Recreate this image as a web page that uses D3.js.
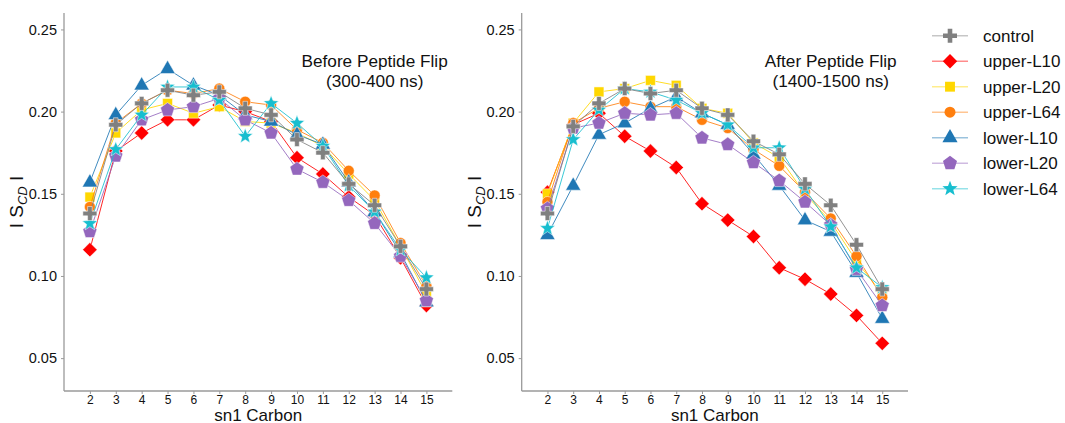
<!DOCTYPE html>
<html>
<head>
<meta charset="utf-8">
<script src="https://cdn.jsdelivr.net/npm/d3@7"></script>
<style>
  html, body { margin: 0; padding: 0; background: #fff; }
  svg { display: block; font-family: "Liberation Sans", Arial, Helvetica, sans-serif; }
</style>
</head>
<body>
<svg id="chart" width="1065" height="423"></svg>
<script>
// sn1 chain carbons
const carbons = [2, 3, 4, 5, 6, 7, 8, 9, 10, 11, 12, 13, 14, 15];
const yTicks = [0.05, 0.10, 0.15, 0.20, 0.25];

// |S_CD| order parameters, 300-400 ns window
const beforeControl  = [0.138, 0.192, 0.205, 0.213, 0.210, 0.212, 0.202, 0.198, 0.183, 0.175, 0.156, 0.143, 0.118, 0.092];
const beforeUpperL10 = [0.116, 0.176, 0.187, 0.195, 0.195, 0.204, 0.200, 0.194, 0.172, 0.162, 0.148, 0.137, 0.111, 0.082];
const beforeUpperL20 = [0.148, 0.187, 0.201, 0.205, 0.199, 0.203, 0.194, 0.193, 0.187, 0.179, 0.162, 0.146, 0.118, 0.089];
const beforeUpperL64 = [0.142, 0.193, 0.205, 0.213, 0.211, 0.214, 0.206, 0.204, 0.189, 0.181, 0.164, 0.149, 0.120, 0.094];
const beforeLowerL10 = [0.157, 0.198, 0.216, 0.226, 0.216, 0.210, 0.198, 0.194, 0.186, 0.180, 0.157, 0.139, 0.114, 0.084];
const beforeLowerL20 = [0.127, 0.173, 0.195, 0.201, 0.203, 0.208, 0.195, 0.187, 0.165, 0.157, 0.146, 0.132, 0.112, 0.085];
const beforeLowerL64 = [0.132, 0.177, 0.198, 0.215, 0.215, 0.207, 0.185, 0.205, 0.193, 0.179, 0.155, 0.139, 0.116, 0.099];

// |S_CD| order parameters, 1400-1500 ns window
const afterControl  = [0.138, 0.191, 0.205, 0.214, 0.211, 0.213, 0.202, 0.198, 0.182, 0.174, 0.156, 0.143, 0.119, 0.092];
const afterUpperL10 = [0.151, 0.192, 0.199, 0.185, 0.176, 0.166, 0.144, 0.134, 0.124, 0.105, 0.098, 0.089, 0.076, 0.059];
const afterUpperL20 = [0.150, 0.193, 0.212, 0.214, 0.219, 0.216, 0.202, 0.199, 0.181, 0.172, 0.150, 0.133, 0.109, 0.089];
const afterUpperL64 = [0.145, 0.193, 0.202, 0.206, 0.203, 0.203, 0.195, 0.190, 0.177, 0.167, 0.151, 0.135, 0.112, 0.087];
const afterLowerL10 = [0.125, 0.155, 0.186, 0.193, 0.202, 0.209, 0.199, 0.192, 0.174, 0.155, 0.134, 0.127, 0.102, 0.074];
const afterLowerL20 = [0.141, 0.190, 0.193, 0.199, 0.198, 0.199, 0.184, 0.180, 0.169, 0.158, 0.145, 0.131, 0.104, 0.082];
const afterLowerL64 = [0.129, 0.183, 0.201, 0.214, 0.212, 0.207, 0.199, 0.192, 0.178, 0.178, 0.153, 0.130, 0.105, 0.093];

const seriesNames  = ["control", "upper-L10", "upper-L20", "upper-L64", "lower-L10", "lower-L20", "lower-L64"];
const seriesColors = ["#808080", "#ff0000", "#ffd700", "#ff7f0e", "#1f77b4", "#9467bd", "#17becf"];
const seriesShapes = ["plus", "diamond", "square", "circle", "triangle", "pentagon", "star"];

const panelTitles = [["Before Peptide Flip", "(300-400 ns)"], ["After Peptide Flip", "(1400-1500 ns)"]];
const panelData = [
  [beforeControl, beforeUpperL10, beforeUpperL20, beforeUpperL64, beforeLowerL10, beforeLowerL20, beforeLowerL64],
  [afterControl, afterUpperL10, afterUpperL20, afterUpperL64, afterLowerL10, afterLowerL20, afterLowerL64]
];

const svg = d3.select("#chart");

// marker path generators
function polygon(n, r, rot) {
  const pts = [];
  for (let i = 0; i < n; i++) {
    const a = rot + i * 2 * Math.PI / n;
    pts.push([r * Math.cos(a), r * Math.sin(a)]);
  }
  return "M" + pts.map(p => p[0].toFixed(2) + "," + p[1].toFixed(2)).join("L") + "Z";
}
function starPath(ro, ri) {
  const pts = [];
  for (let i = 0; i < 10; i++) {
    const a = -Math.PI / 2 + i * Math.PI / 5;
    const r = i % 2 === 0 ? ro : ri;
    pts.push([r * Math.cos(a), r * Math.sin(a)]);
  }
  return "M" + pts.map(p => p[0].toFixed(2) + "," + p[1].toFixed(2)).join("L") + "Z";
}
function plusPath(h, w) {
  const a = w / 2;
  return `M${-a},${-h}L${a},${-h}L${a},${-a}L${h},${-a}L${h},${a}L${a},${a}L${a},${h}L${-a},${h}L${-a},${a}L${-h},${a}L${-h},${-a}L${-a},${-a}Z`;
}
const shapePaths = {
  plus: plusPath(7, 4.6),
  diamond: polygon(4, 7.2, -Math.PI / 2),
  square: polygon(4, 7.0, Math.PI / 4),
  circle: d3.symbol(d3.symbolCircle, 95)(),
  triangle: "M0,-8.6L7.6,4.6L-7.6,4.6Z",
  pentagon: polygon(5, 7.4, -Math.PI / 2),
  star: starPath(8.0, 3.4)
};

const panels = [
  { left: 64, right: 452.3, yLabelX: 23 },
  { left: 521.7, right: 908, yLabelX: 480.5 }
];
const plotTop = 13, plotBottom = 391;
const axisColor = "#9a9a9a";

// draw order: treatments first, control on top
const drawOrder = [1, 2, 3, 4, 5, 6, 0];

panels.forEach((p, pi) => {
  const x = d3.scaleLinear().domain([1, 16]).range([p.left, p.right]);
  const y = d3.scaleLinear().domain([0.03, 0.26]).range([plotBottom, plotTop]);

  const g = svg.append("g");

  // axes
  const xAxis = g.append("g").attr("transform", `translate(0,${plotBottom})`)
    .call(d3.axisBottom(x).tickValues(carbons).tickFormat(d3.format("d")).tickSizeOuter(0).tickSize(3).tickPadding(1));
  const yAxis = g.append("g").attr("transform", `translate(${p.left},0)`)
    .call(d3.axisLeft(y).tickValues(yTicks).tickFormat(d3.format(".2f")).tickSizeOuter(0).tickSize(3).tickPadding(4));
  [xAxis, yAxis].forEach(a => {
    a.select(".domain").attr("stroke", axisColor).attr("stroke-width", 1.3);
    a.selectAll(".tick line").attr("stroke", axisColor);
    a.selectAll(".tick text").attr("fill", "#111").attr("font-family", "Liberation Sans, Arial, sans-serif");
  });
  xAxis.selectAll(".tick text").attr("font-size", 12);
  yAxis.selectAll(".tick text").attr("font-size", 14.5);
  xAxis.select(".domain").attr("d", `M${p.left},0H${p.right}`);
  yAxis.select(".domain").attr("d", `M0,${plotBottom}V${plotTop}`);

  // axis titles
  g.append("text").attr("x", (p.left + p.right) / 2).attr("y", 421)
    .attr("text-anchor", "middle").attr("font-size", 17).attr("fill", "#111").text("sn1 Carbon");
  const yl = g.append("text")
    .attr("transform", `translate(${p.yLabelX},${(plotTop + plotBottom) / 2}) rotate(-90)`)
    .attr("text-anchor", "middle").attr("font-size", 19).attr("fill", "#111");
  yl.append("tspan").text("I S");
  yl.append("tspan").attr("font-size", 13).attr("font-style", "italic").attr("dy", 4).text("CD");
  yl.append("tspan").attr("dy", -4).text(" I");

  // panel title
  const tx = x(13);
  g.append("text").attr("x", tx).attr("y", 67).attr("text-anchor", "middle")
    .attr("font-size", 17.2).attr("fill", "#111").text(panelTitles[pi][0]);
  g.append("text").attr("x", tx).attr("y", 87).attr("text-anchor", "middle")
    .attr("font-size", 17.2).attr("fill", "#111").text(panelTitles[pi][1]);

  const line = d3.line().x((d, i) => x(carbons[i])).y(d => y(d));

  drawOrder.forEach(si => {
    const vals = panelData[pi][si];
    const sg = g.append("g");
    sg.append("path").datum(vals).attr("d", line)
      .attr("fill", "none").attr("stroke", seriesColors[si])
      .attr("stroke-width", 1).attr("stroke-opacity", 0.85);
    sg.selectAll("path.m").data(vals).join("path").attr("class", "m")
      .attr("transform", (d, i) => `translate(${x(carbons[i])},${y(d)})`)
      .attr("d", shapePaths[seriesShapes[si]])
      .attr("fill", seriesColors[si])
      .attr("stroke", "#ffffff").attr("stroke-opacity", 0.55).attr("stroke-width", 0.9);
  });
});

// legend
const legend = svg.append("g");
seriesNames.forEach((name, i) => {
  const ly = 35.7 + i * 25.5;
  legend.append("line").attr("x1", 932).attr("x2", 968).attr("y1", ly).attr("y2", ly)
    .attr("stroke", seriesColors[i]).attr("stroke-width", 1.6).attr("stroke-opacity", 0.45);
  legend.append("path").attr("transform", `translate(950,${ly})`)
    .attr("d", shapePaths[seriesShapes[i]]).attr("fill", seriesColors[i]);
  legend.append("text").attr("x", 983).attr("y", ly + 6).attr("font-size", 17)
    .attr("fill", "#111").text(name);
});
</script>
</body>
</html>
